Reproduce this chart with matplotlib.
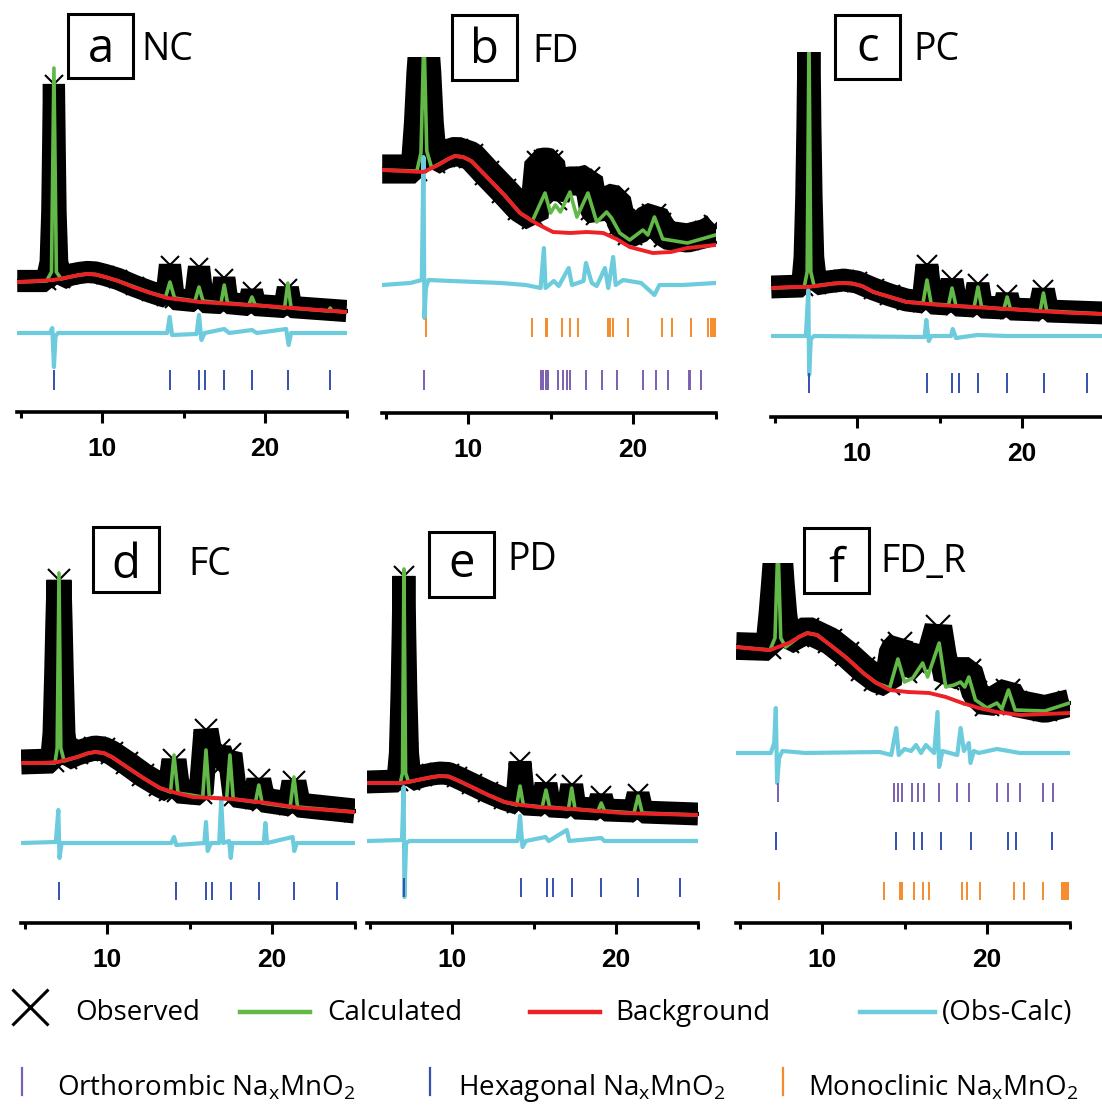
import numpy as np
import matplotlib.pyplot as plt
from matplotlib.lines import Line2D
from matplotlib.patches import Rectangle

plt.rcParams['font.family'] = ['Open Sans', 'DejaVu Sans']

# figure size in pixels (dpi 100)
W, H = 1102, 1107
XMIN, XMAX = 4.8, 25.0

# ---- a : NC ----
ncBgX = [4.8, 6.0, 7.0, 8.0, 8.6, 9.1, 9.6, 10.2, 11.0, 11.9, 13.0, 14.0, 16.0, 18.0, 20.1, 22.5, 25.0]
ncBgY = [130, 131, 132, 135, 137, 138, 137.5, 135, 131, 125, 119, 114, 110, 108, 106, 103, 100]
ncCalcX = [4.8, 6.6, 6.9, 7.05, 7.2, 7.5, 8.0, 8.6, 9.1, 9.6, 10.2, 11.0, 12.0, 13.0, 13.9, 14.17, 14.45,
           15.7, 15.95, 16.2, 17.3, 17.5, 17.7, 19.0, 19.2, 19.4, 21.2, 21.4, 21.6, 23.9, 24.0, 24.1, 25.0]
ncCalcY = [130, 131, 140, 344, 140, 133, 135, 137, 138, 137.5, 135, 131, 125, 119, 115, 130, 114,
           111, 125, 111, 109, 127, 109, 107, 115, 107, 104, 129, 104, 101, 104, 101, 100]
ncObsX = [4.8, 6.6, 6.85, 6.95, 7.0, 7.05, 7.1, 7.15, 7.25, 7.5, 8.0, 8.6, 9.1, 9.6, 10.2, 11.0,
          12.0, 13.0, 13.95, 14.17, 14.4, 15.7, 15.95, 16.2, 17.3, 17.5, 17.7, 19.0, 19.2, 19.4,
          21.2, 21.4, 21.6, 25.0]
ncObsY = [131, 131, 150, 200, 260, 328, 260, 200, 150, 133, 137, 139, 140, 139.5, 137, 133,
          126, 120, 115, 147, 113, 111, 145, 110, 109, 134, 109, 107, 121, 107,
          105, 124, 105, 101]
ncDiffX = [4.8, 6.8, 6.95, 7.05, 7.15, 7.3, 14.0, 14.15, 14.3, 15.8, 15.95, 16.1, 16.3,
           17.5, 17.8, 19.2, 19.5, 21.3, 21.45, 21.6, 25.0]
ncDiffY = [79, 79, 84, 45, 76, 79, 79, 95, 77, 78, 97, 72, 79, 83, 79, 82, 79, 83, 67, 79, 79]
ncHex = [7.07, 14.2, 15.95, 16.3, 17.5, 19.2, 21.4, 23.99]

# ---- b : FD ----
fdBgX = [4.8, 6.0, 7.3, 8.2, 8.8, 9.2, 9.7, 10.2, 11.15, 12.2, 13.15, 14.2, 15.15, 16.2, 17.2,
         18.2, 19.0, 19.8, 21.2, 22.3, 23.3, 25.0]
fdBgY = [243, 242, 241, 248, 254, 257, 256, 252, 236, 218, 200, 189, 181, 180, 181,
         180, 174, 166, 160, 161, 165, 168]
fdCalcX = [4.8, 6.9, 7.15, 7.33, 7.5, 7.8, 8.8, 9.2, 9.7, 10.2, 11.15, 12.2, 13.15, 13.9, 14.67,
           15.0, 15.3, 15.6, 16.18, 16.6, 17.27, 17.8, 18.4, 18.7, 19.2, 19.8, 20.6, 20.9,
           21.3, 21.8, 23.3, 25.0]
fdCalcY = [243, 242, 260, 380, 262, 245, 254, 257, 256, 252, 236, 218, 200, 192, 220,
           200, 208, 201, 221, 196, 220, 191, 201, 195, 180, 173, 183, 178,
           196, 174, 170, 178]
fdObsX = [4.8, 6.8, 7.0, 7.15, 7.33, 7.5, 7.65, 7.85, 8.5, 9.3, 10.2, 11.15, 12.2, 13.15,
          14.0, 14.3, 14.7, 15.0, 15.3, 15.6, 16.2, 16.8, 17.3, 17.6, 17.9, 18.4, 19.0,
          19.3, 19.8, 20.5, 20.7, 21.3, 21.6, 22.0, 23.3, 24.5, 25.0]
fdObsY = [244, 244, 290, 340, 380, 340, 290, 252, 258, 262, 257, 240, 222, 205,
          196, 250, 251, 250, 215, 230, 232, 232, 234, 205, 200, 215, 213,
          190, 180, 185, 192, 197, 188, 178, 175, 180, 186]
fdDiffX = [4.8, 6.5, 7.2, 7.3, 7.36, 7.45, 7.6, 9.0, 12.0, 13.5, 14.4, 14.6, 14.7, 15.2,
           15.5, 16.1, 16.3, 17.0, 17.15, 17.5, 17.8, 18.3, 18.5, 18.8, 18.95, 19.4,
           20.5, 21.3, 21.6, 23.0, 25.0]
fdDiffY = [128, 130, 133, 256, 95, 125, 133, 132, 130, 128, 125, 165, 125, 132,
           127, 145, 128, 132, 150, 130, 127, 145, 125, 156, 128, 133,
           130, 118, 128, 128, 130]
fdMono = [7.44, 13.86, 14.73, 14.81, 15.72, 16.18, 16.65, 18.47, 18.61, 18.81, 19.72,
          21.74, 22.35, 23.5, 24.56, 24.71, 24.87, 24.97]
fdOrtho = [7.33, 14.4, 14.56, 14.71, 14.87, 15.44, 15.78, 15.98, 16.18, 17.13, 18.14,
           19.01, 20.62, 21.38, 22.1, 23.39, 23.45, 24.1]

# ---- c : PC ----
pcBgX = [4.8, 6.0, 7.0, 8.0, 8.6, 9.15, 9.7, 10.3, 11.0, 12.0, 13.0, 15.0, 17.0, 19.1, 21.0, 23.1, 25.0]
pcBgY = [129, 130, 130, 132, 133.5, 134, 133.5, 131, 125, 120, 115, 112, 110, 108, 106, 104, 103]
pcCalcX = [4.8, 6.8, 6.98, 7.09, 7.2, 7.4, 8.6, 9.15, 9.7, 10.3, 11.0, 12.0, 13.0, 14.0, 14.24,
           14.5, 15.55, 15.76, 16.0, 17.1, 17.33, 17.55, 18.9, 19.1, 19.3, 21.1, 21.3, 21.5, 25.0]
pcCalcY = [129, 130, 145, 380, 145, 131, 133.5, 134, 133.5, 131, 125, 120, 115, 114, 137,
           113, 112, 129, 111, 110, 130, 110, 108, 120, 108, 106, 124, 106, 103]
pcObsX = [4.8, 6.7, 6.85, 6.95, 7.02, 7.09, 7.15, 7.22, 7.32, 7.5, 8.2, 9.2, 10.0, 11.0,
          12.0, 13.0, 14.0, 14.24, 14.5, 15.5, 15.76, 16.0, 17.1, 17.33, 17.55,
          18.9, 19.1, 19.3, 21.05, 21.3, 21.55, 25.0]
pcObsY = [130, 131, 160, 220, 290, 380, 290, 220, 160, 133, 135, 137, 135, 128,
          122, 117, 115, 152, 114, 113, 137, 112, 111, 133, 110,
          109, 122, 108, 107, 127, 106, 104]
pcDiffX = [4.8, 6.9, 7.05, 7.1, 7.2, 7.4, 14.1, 14.2, 14.35, 14.5, 15.7, 15.8, 16.0,
           17.3, 19.1, 25.0]
pcDiffY = [81, 81, 127, 42, 78, 81, 80, 97, 76, 81, 81, 88, 79, 82, 81, 81]
pcHex = [7.09, 14.26, 15.77, 16.18, 17.35, 19.11, 21.33, 23.92]

# ---- d : FC ----
fcBgX = [4.8, 6.0, 7.03, 8.2, 8.8, 9.27, 9.8, 10.3, 11.2, 12.2, 13.2, 14.2, 15.2, 16.4, 17.6,
         19.7, 21.7, 25.0]
fcBgY = [160, 160, 161, 166, 169.5, 171, 170, 166, 156, 145, 135, 130, 126, 125, 124,
         120, 115, 111]
fcCalcX = [4.8, 6.85, 6.98, 7.09, 7.2, 7.4, 8.2, 8.8, 9.27, 9.8, 10.3, 11.2, 12.2, 13.2, 13.85,
           14.06, 14.3, 15.8, 16.0, 16.2, 17.25, 17.45, 17.65, 19.0, 19.2, 19.4, 21.1, 21.33,
           21.55, 25.0]
fcCalcY = [160, 160, 175, 350, 175, 162, 166, 169.5, 171, 170, 166, 156, 145, 135, 131,
           168, 130, 126, 173, 126, 124, 168, 124, 121, 138, 120, 116, 146,
           116, 111]
fcObsX = [4.8, 6.7, 6.85, 6.95, 7.02, 7.09, 7.16, 7.23, 7.33, 7.5, 8.2, 8.8, 9.27, 9.8, 10.3,
          11.2, 12.2, 13.2, 13.8, 14.06, 14.3, 15.7, 16.0, 16.35, 16.8, 17.1, 17.45, 17.75,
          19.0, 19.2, 19.45, 21.1, 21.33, 21.6, 25.0]
fcObsY = [161, 162, 190, 250, 300, 343, 300, 250, 190, 165, 170, 173, 175, 174, 170,
          160, 148, 138, 133, 163, 132, 130, 193, 160, 173, 160, 169, 128,
          125, 143, 123, 119, 141, 118, 112]
fcDiffX = [4.8, 6.9, 7.05, 7.12, 7.25, 13.9, 14.06, 14.2, 15.9, 16.0, 16.1, 16.3, 16.8,
           16.92, 17.05, 17.4, 17.5, 17.6, 19.5, 19.6, 19.7, 21.25, 21.35, 21.5, 25.0]
fcDiffY = [80, 81, 113, 65, 80, 80, 86, 78, 80, 101, 72, 80, 80,
           123, 80, 82, 65, 80, 80, 100, 80, 86, 72, 80, 80]
fcHex = [7.09, 14.16, 15.98, 16.38, 17.5, 19.21, 21.33, 23.96]

# ---- e : PD ----
pdBgX = [4.8, 6.0, 7.0, 8.2, 8.8, 9.27, 9.8, 10.3, 11.2, 12.2, 13.2, 14.2, 15.2, 17.3, 20.4,
         22.5, 25.0]
pdBgY = [140, 140, 140, 144, 146, 147, 146.5, 143, 136, 128, 121, 118, 116, 114, 110,
         109, 108]
pdCalcX = [4.8, 6.85, 6.98, 7.07, 7.17, 7.35, 8.2, 8.8, 9.27, 9.8, 10.3, 11.2, 12.2, 13.2,
           13.95, 14.15, 14.35, 15.5, 15.73, 15.95, 17.1, 17.3, 17.5, 18.9, 19.1, 19.3,
           21.1, 21.35, 21.6, 25.0]
pdCalcY = [140, 140, 150, 354, 150, 141, 144, 146, 147, 146.5, 143, 136, 128, 121,
           118, 137, 118, 116, 133, 116, 114, 135, 114, 112, 120, 112,
           110, 127, 110, 108]
pdObsX = [4.8, 6.7, 6.85, 6.95, 7.02, 7.07, 7.12, 7.19, 7.29, 7.45, 8.2, 8.8, 9.27, 9.8,
          10.3, 11.2, 12.2, 13.2, 13.95, 14.15, 14.4, 15.5, 15.73, 15.95, 17.1, 17.3, 17.5,
          18.9, 19.1, 19.3, 21.1, 21.35, 21.6, 25.0]
pdObsY = [141, 142, 170, 230, 290, 347, 290, 230, 170, 143, 147, 149, 150, 149.5,
          146, 139, 131, 124, 120, 161, 119, 118, 139, 117, 116, 138, 115,
          114, 127, 113, 112, 129, 111, 109]
pdDiffX = [4.8, 6.95, 7.05, 7.1, 7.2, 7.4, 14.0, 14.15, 14.3, 14.5, 15.7, 15.9, 17.0,
           17.15, 19.1, 19.3, 25.0]
pdDiffY = [82, 83, 136, 26, 80, 82, 82, 107, 76, 82, 86, 82, 93, 82, 85, 82, 82]
pdHex = [7.07, 14.19, 15.79, 16.18, 17.34, 19.09, 21.36, 23.9]

# ---- f : FD_R ----
frBgX = [4.8, 6.0, 6.85, 8.0, 8.6, 9.1, 9.7, 10.5, 11.5, 12.5, 13.3, 14.1, 15.2, 16.5, 17.5,
         18.5, 19.5, 20.6, 22.0, 23.5, 25.0]
frBgY = [276, 274, 273, 280, 286, 290, 288, 278, 265, 250, 240, 233, 231, 230, 226,
         220, 215, 211, 208, 209, 210]
frCalcX = [4.8, 6.85, 7.15, 7.33, 7.5, 7.8, 8.6, 9.1, 9.7, 10.5, 11.5, 12.5, 13.3, 14.1, 14.6,
           15.0, 15.5, 16.1, 16.4, 17.1, 17.5, 18.0, 18.4, 18.65, 18.9, 19.3, 20.0, 20.6,
           20.9, 21.3, 21.7, 23.5, 25.0]
frCalcY = [276, 273, 285, 380, 285, 276, 286, 290, 288, 278, 265, 250, 240, 235, 264,
           241, 245, 260, 246, 280, 236, 238, 241, 236, 246, 223, 215, 220,
           214, 233, 213, 212, 220]
frObsX = [4.8, 6.8, 7.0, 7.15, 7.33, 7.5, 7.65, 7.85, 8.5, 9.1, 10.5, 11.5, 12.5, 13.3,
          14.0, 14.3, 14.7, 15.0, 15.5, 16.1, 16.4, 17.05, 17.3, 17.6, 18.2, 18.9, 19.3,
          20.0, 20.6, 21.3, 21.7, 23.5, 25.0]
frObsY = [277, 276, 310, 340, 380, 340, 310, 282, 288, 293, 282, 269, 254, 244,
          240, 272, 279, 252, 262, 269, 258, 296, 270, 245, 252, 252, 230,
          219, 225, 232, 220, 214, 220]
frDiffX = [4.8, 6.9, 7.1, 7.2, 7.28, 7.4, 7.6, 9.0, 13.5, 14.2, 14.5, 14.65, 15.0, 15.4,
           15.7, 16.0, 16.3, 16.8, 17.0, 17.1, 17.3, 18.2, 18.4, 18.6, 18.9, 19.0, 19.2,
           19.5, 20.6, 22.0, 25.0]
frDiffY = [170, 170, 180, 215, 140, 165, 172, 170, 171, 168, 195, 168, 174, 172,
           178, 170, 178, 170, 211, 156, 172, 168, 195, 172, 180, 160, 172,
           170, 174, 170, 170]
frOrtho = [7.32, 14.38, 14.59, 14.83, 15.44, 15.84, 16.18, 17.07, 18.16, 18.93, 20.59,
           21.29, 22.0, 23.38, 23.98]
frHex = [7.21, 14.46, 15.59, 16.04, 17.19, 19.03, 21.29, 21.74, 23.92]
frMono = [7.39, 13.76, 14.73, 14.83, 15.59, 16.1, 16.5, 18.47, 18.77, 19.58, 21.64,
          22.24, 23.41, 24.53, 24.67, 24.79, 24.93]

letters = ['a', 'b', 'c', 'd', 'e', 'f']
names = ['NC', 'FD', 'PC', 'FC', 'PD', 'FD_R']

GREEN = '#62b947'
RED = '#ec2227'
CYAN = '#6ccbdc'
PURPLE = '#7b5fb0'
BLUE = '#3550b0'
ORANGE = '#f58a2c'


def fx(px):
    return px / W


def fy(py):
    return 1 - py / H


def draw_panel(fig, lay, bg, calc, obs, diff, phases):
    # axes placed so that the 10 and 20 ticks land where they are in the picture
    ppu = (lay['x20'] - lay['x10']) / 10.0
    left = lay['x10'] - (10 - XMIN) * ppu
    width = (XMAX - XMIN) * ppu
    height = lay['spine'] - lay['top']
    ax = fig.add_axes([fx(left), fy(lay['spine']), width / W, height / H])
    ax.set_xlim(XMIN, XMAX)
    ax.set_ylim(0, height)
    ax.patch.set_alpha(0)

    # observed points: a thick black band, the crosses stick out on the peaks
    ax.plot(obs[0], obs[1], color='black', lw=lay['band'], solid_joinstyle='bevel',
            solid_capstyle='butt', zorder=1)
    ax.plot(obs[0], obs[1], color='black', ls='none', marker='x', ms=lay['band'] * 0.85,
            mew=1.5, zorder=1)
    ax.plot(calc[0], calc[1], color=GREEN, lw=2.6, zorder=2)
    ax.plot(bg[0], bg[1], color=RED, lw=2.8, zorder=3)
    ax.plot(diff[0], diff[1], color=CYAN, lw=3.0, zorder=2)

    for (pos, color), (lo, hi) in zip(phases, lay['rows']):
        ax.vlines(pos, lo, hi, color=color, lw=1.4)

    for side in ['left', 'right', 'top']:
        ax.spines[side].set_visible(False)
    ax.spines['bottom'].set_linewidth(2.6)
    ax.set_yticks([])
    ax.set_xticks([10, 20])
    ax.set_xticks([5, 15, 25], minor=True)
    ax.tick_params(axis='x', which='major', length=8, width=2.2, pad=10, labelsize=19)
    ax.tick_params(axis='x', which='minor', length=4, width=2.2)
    for lab in ax.get_xticklabels():
        lab.set_family('Liberation Sans')
        lab.set_weight('bold')
    return ax


def draw_label(fig, lay, letter, name):
    bx, by, bw, bh = lay['box']
    fig.add_artist(Rectangle((fx(bx), fy(by + bh)), bw / W, bh / H, fill=False,
                             lw=2.2, ec='black', transform=fig.transFigure))
    fig.text(fx(bx + bw / 2), fy(lay['letterBase']), letter, fontsize=34,
             ha='center', va='baseline')
    fig.text(fx(lay['nameX']), fy(lay['nameBase']), name, fontsize=27,
             ha='left', va='baseline')


def draw_legend(fig):
    fs = 20
    # top row: markers and lines
    fig.add_artist(Line2D([fx(30)], [fy(1007)], marker='x', ms=26, mew=2.2, color='black',
                          ls='none', transform=fig.transFigure))
    fig.text(fx(75), fy(1020), 'Observed', fontsize=fs, va='baseline')
    rowItems = [(240, 310, GREEN, 327, 'Calculated'),
                (530, 600, RED, 615, 'Background'),
                (860, 935, CYAN, 942, '(Obs-Calc)')]
    for x0, x1, col, tx, label in rowItems:
        fig.add_artist(Line2D([fx(x0), fx(x1)], [fy(1012), fy(1012)], color=col, lw=3.2,
                              transform=fig.transFigure))
        fig.text(fx(tx), fy(1020), label, fontsize=fs, va='baseline')
    # bottom row: reflection ticks
    phaseItems = [(22, PURPLE, 57, 'Orthorombic'),
                  (430, BLUE, 458, 'Hexagonal'),
                  (783, ORANGE, 808, 'Monoclinic')]
    for x0, col, tx, label in phaseItems:
        fig.add_artist(Line2D([fx(x0), fx(x0)], [fy(1068), fy(1095)], color=col, lw=1.6,
                              transform=fig.transFigure))
        fig.text(fx(tx), fy(1095),
                 label + r' Na$_{\mathregular{x}}$MnO$_{\mathregular{2}}$',
                 fontsize=fs, va='baseline')


def main():
    fig = plt.figure(figsize=(W / 100, H / 100), dpi=100)

    layouts = [
        dict(x10=102, x20=265, spine=412, top=40, band=16, rows=[(22, 42)],
             box=(68, 14, 65, 64), letterBase=62, nameX=141, nameBase=60),
        dict(x10=468, x20=633, spine=413, top=57, band=21, rows=[(76, 95), (23, 43)],
             box=(452, 15, 65, 65), letterBase=63, nameX=532, nameBase=62),
        dict(x10=857, x20=1022, spine=417, top=52, band=16.5, rows=[(24, 44)],
             box=(835, 15, 65, 64), letterBase=61, nameX=913, nameBase=60),
        dict(x10=107, x20=272, spine=923, top=555, band=18, rows=[(23, 41)],
             box=(93, 527, 66, 65), letterBase=578, nameX=188, nameBase=575),
        dict(x10=452, x20=616, spine=923, top=555, band=16.5, rows=[(26, 45)],
             box=(429, 532, 65, 65), letterBase=577, nameX=507, nameBase=570),
        dict(x10=822, x20=987, spine=923, top=563, band=20,
             rows=[(121, 140), (73, 91), (23, 41)],
             box=(804, 528, 65, 65), letterBase=582, nameX=880, nameBase=572),
    ]

    panels = [
        ((ncBgX, ncBgY), (ncCalcX, ncCalcY), (ncObsX, ncObsY), (ncDiffX, ncDiffY),
         [(ncHex, BLUE)]),
        ((fdBgX, fdBgY), (fdCalcX, fdCalcY), (fdObsX, fdObsY), (fdDiffX, fdDiffY),
         [(fdMono, ORANGE), (fdOrtho, PURPLE)]),
        ((pcBgX, pcBgY), (pcCalcX, pcCalcY), (pcObsX, pcObsY), (pcDiffX, pcDiffY),
         [(pcHex, BLUE)]),
        ((fcBgX, fcBgY), (fcCalcX, fcCalcY), (fcObsX, fcObsY), (fcDiffX, fcDiffY),
         [(fcHex, BLUE)]),
        ((pdBgX, pdBgY), (pdCalcX, pdCalcY), (pdObsX, pdObsY), (pdDiffX, pdDiffY),
         [(pdHex, BLUE)]),
        ((frBgX, frBgY), (frCalcX, frCalcY), (frObsX, frObsY), (frDiffX, frDiffY),
         [(frOrtho, PURPLE), (frHex, BLUE), (frMono, ORANGE)]),
    ]

    for lay, (bg, calc, obs, diff, phases), letter, name in zip(layouts, panels, letters, names):
        draw_panel(fig, lay, bg, calc, obs, diff, phases)
        draw_label(fig, lay, letter, name)

    draw_legend(fig)
    fig.savefig('out.png', dpi=100)


if __name__ == "__main__":
    main()
